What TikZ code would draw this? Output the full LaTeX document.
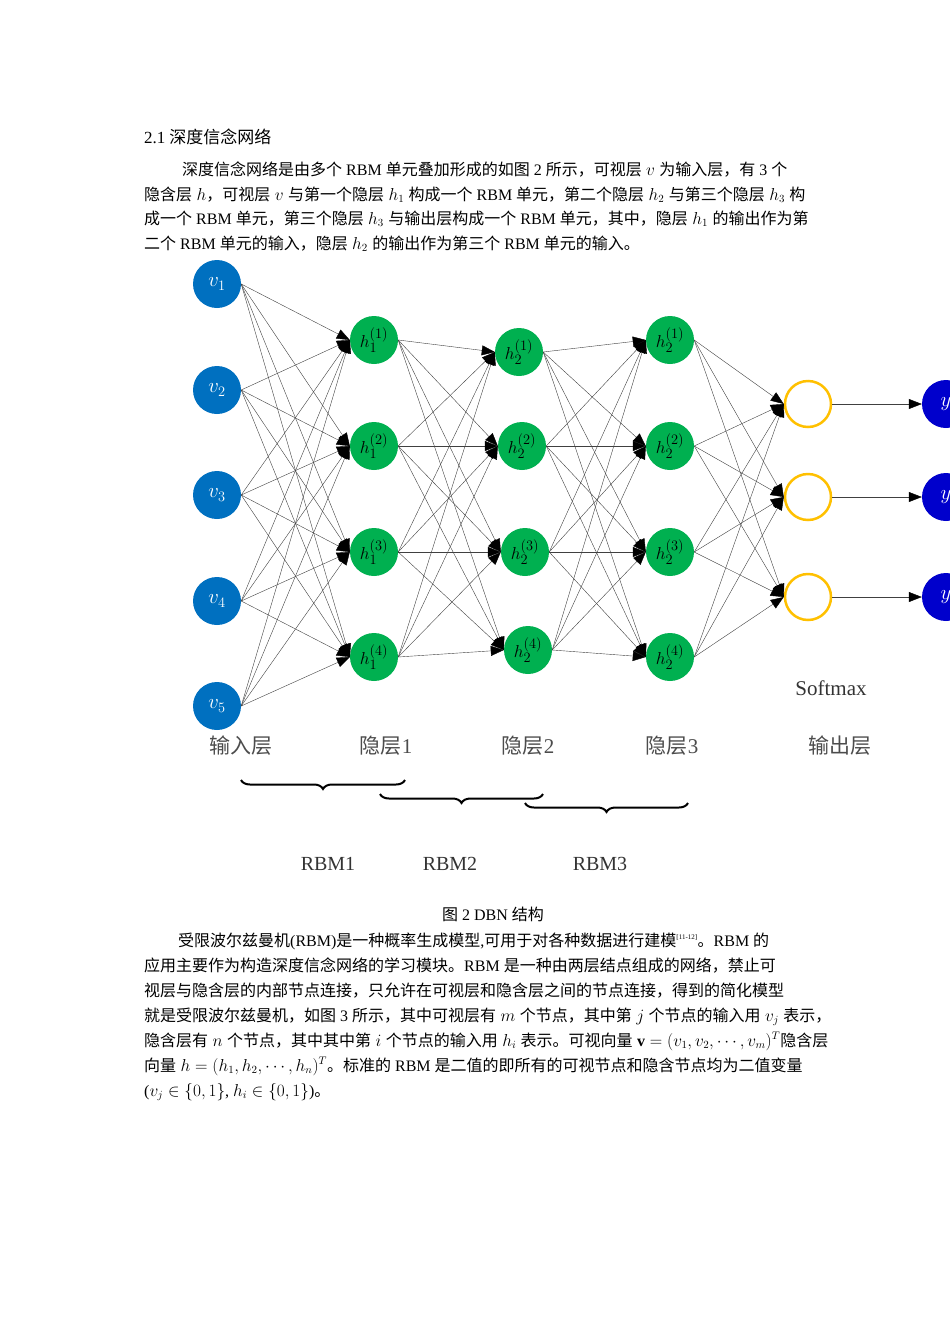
\documentclass[tikz,border=0pt]{standalone}
\usepackage{fontspec}
\setmainfont{Liberation Serif}
\newfontfamily\cjk{Noto Sans CJK SC}
\usetikzlibrary{arrows.meta,decorations.pathreplacing}
\definecolor{vblue}{HTML}{0070C0}
\definecolor{hgreen}{HTML}{00B050}
\definecolor{oyel}{HTML}{FFC000}
\definecolor{yblue}{HTML}{0000CC}
\newcommand{\lt}[1]{{\rmfamily #1}}
\tikzset{
 txt/.style={anchor=base west,inner sep=0pt,font=\cjk\fontsize{16}{18}\selectfont},
 vn/.style={circle,fill=vblue,minimum size=48pt,inner sep=0pt,text=white,font=\fontsize{20}{22}\selectfont},
 hn/.style={circle,fill=hgreen,minimum size=48pt,inner sep=0pt,font=\fontsize{19}{22}\selectfont},
 on/.style={circle,draw=oyel,line width=2.5pt,fill=white,minimum size=46pt,inner sep=0pt},
 yn/.style={circle,fill=yblue,minimum size=48pt,inner sep=0pt,text=white,font=\fontsize{20}{22}\selectfont},
 con/.style={draw=black!75,line width=0.4pt,-{Triangle[length=13pt,width=10pt,fill=black,color=black]}},
 lab/.style={font=\cjk\fontsize{21}{24}\selectfont,text=black!70,anchor=base},
 rbm/.style={font=\fontsize{20}{24}\selectfont,text=black!80,anchor=base},
 br/.style={decorate,decoration={brace,mirror,amplitude=9pt},line width=2pt}
}
\begin{document}
\begin{tikzpicture}[x=1pt,y=-1pt]
\useasboundingbox (0,0) rectangle (950,1344);
\clip (0,0) rectangle (950,1344);
% text top
\node[txt,font=\cjk\fontsize{17}{18}\selectfont] (t0) at (144,143) {\lt{2.1} 深度信念网络};
\node[txt] (t1) at (182,175) {深度信念网络是由多个\lt{ RBM }单元叠加形成的如图\lt{ 2 }所示，可视层\;$v$\;为输入层，有\lt{ 3 }个};
\node[txt] (t2) at (144,200) {隐含层\;$h$，可视层\;$v$\;与第一个隐层\;$h_1$\;构成一个\lt{ RBM }单元，第二个隐层\;$h_2$\;与第三个隐层\;$h_3$\;构};
\node[txt] (t3) at (144,224) {成一个\lt{ RBM }单元，第三个隐层\;$h_3$\;与输出层构成一个\lt{ RBM }单元，其中，隐层\;$h_1$\;的输出作为第};
\node[txt] (t4) at (144,249) {二个\lt{ RBM }单元的输入，隐层\;$h_2$\;的输出作为第三个\lt{ RBM }单元的输入。};
% nodes
\foreach \i/\y in {1/284,2/390,3/495,4/601,5/706} \node[vn] (v\i) at (217,\y) {$v_{\i}$};
\foreach \i/\y in {1/340,2/446,3/552,4/657} \node[hn] (a\i) at (374,\y) {$h_1^{(\i)}$};
\foreach \i/\x/\y in {1/519/352,2/522/446,3/525/552,4/528/650} \node[hn] (b\i) at (\x,\y) {$h_2^{(\i)}$};
\foreach \i/\y in {1/340,2/446,3/552,4/657} \node[hn] (c\i) at (670,\y) {$h_2^{(\i)}$};
\foreach \i/\y in {1/404,2/497,3/597} {\node[on] (o\i) at (808,\y) {};
 \node[yn] (y\i) at (946,\y) {$y$};}
% connectors
\foreach \s in {1,...,5} \foreach \t in {1,...,4} \draw[con] (v\s.east) -- (a\t.west);
\foreach \s in {1,...,4} \foreach \t in {1,...,4} \draw[con] (a\s.east) -- (b\t.west);
\foreach \s in {1,...,4} \foreach \t in {1,...,4} \draw[con] (b\s.east) -- (c\t.west);
\foreach \s in {1,...,4} \foreach \t in {1,...,3} \draw[con] (c\s.east) -- (o\t.west);
\foreach \t in {1,...,3} \draw[con] (o\t.east) -- (y\t.west);
% labels
\node[rbm,font=\fontsize{21}{24}\selectfont] (sm) at (831,695) {Softmax};
\node[lab] (l0) at (241,753) {输入层};
\node[lab] (l1) at (386,753) {隐层\lt{1}};
\node[lab] (l2) at (528,753) {隐层\lt{2}};
\node[lab] (l3) at (672,753) {隐层\lt{3}};
\node[lab] (l4) at (840,753) {输出层};
\coordinate (b1a) at (241,780); \coordinate (b1b) at (405,780);
\coordinate (b2a) at (380,794); \coordinate (b2b) at (543,794);
\coordinate (b3a) at (525,803); \coordinate (b3b) at (688,803);
\draw[br] (b1a) -- (b1b);
\draw[br] (b2a) -- (b2b);
\draw[br] (b3a) -- (b3b);
\node[rbm] (r1) at (328,870) {RBM1};
\node[rbm] (r2) at (450,870) {RBM2};
\node[rbm] (r3) at (600,870) {RBM3};
\node[txt,anchor=base] (cap) at (493,920) {图\lt{ 2 DBN }结构};
% bottom text
\node[txt] (u1) at (178,946) {受限波尔兹曼机\lt{(RBM)}是一种概率生成模型\lt{,}可用于对各种数据进行建模\lt{\textsuperscript{\scriptsize[11-12]}}。\lt{RBM }的};
\node[txt] (u2) at (144,971) {应用主要作为构造深度信念网络的学习模块。\lt{RBM }是一种由两层结点组成的网络，禁止可};
\node[txt] (u3) at (144,996) {视层与隐含层的内部节点连接，只允许在可视层和隐含层之间的节点连接，得到的简化模型};
\node[txt] (u4) at (144,1021) {就是受限波尔兹曼机，如图\lt{ 3 }所示，其中可视层有\;$m$\;个节点，其中第\;$j$\;个节点的输入用\;$v_j$\;表示，};
\node[txt] (u5) at (144,1046) {隐含层有\;$n$\;个节点，其中其中第\;$i$\;个节点的输入用\;$h_i$\;表示。可视向量\;\lt{$\mathbf{v}=(v_1,v_2,\cdots,v_m)^T$}隐含层};
\node[txt] (u6) at (144,1071) {向量\;$h=(h_1,h_2,\cdots,h_n)^T$。标准的\lt{ RBM }是二值的即所有的可视节点和隐含节点均为二值变量};
\node[txt] (u7) at (144,1096) {\lt{($v_j\in\{0,1\}$, $h_i\in\{0,1\}$)}。};
\end{tikzpicture}
\end{document}
